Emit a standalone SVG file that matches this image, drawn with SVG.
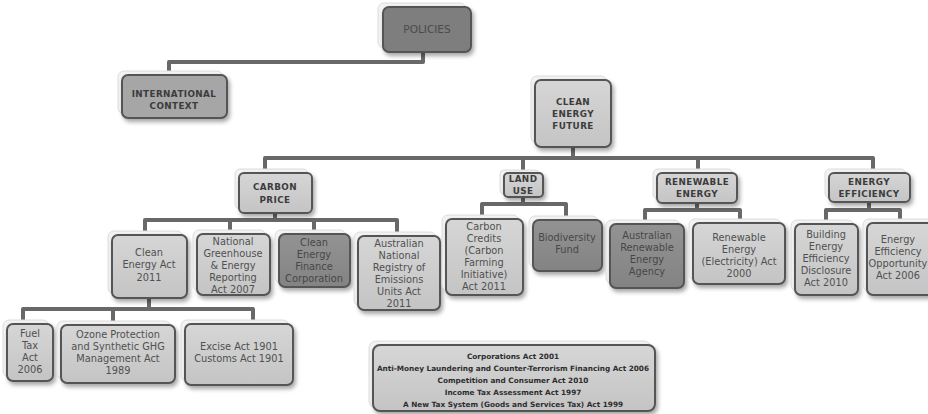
<svg xmlns="http://www.w3.org/2000/svg" width="928" height="414" viewBox="0 0 928 414">
<defs>
<filter id="sh" x="-20%" y="-20%" width="150%" height="150%">
<feDropShadow dx="2" dy="3" stdDeviation="2" flood-color="#000" flood-opacity="0.35"/>
</filter>
<linearGradient id="gl" x1="0" y1="0" x2="0" y2="1"><stop offset="0" stop-color="#d6d6d6"/><stop offset="1" stop-color="#c4c4c4"/></linearGradient>
<linearGradient id="gd" x1="0" y1="0" x2="0" y2="1"><stop offset="0" stop-color="#939393"/><stop offset="1" stop-color="#838383"/></linearGradient>
</defs>
<style>
.bg{fill:#f3f3f3;stroke:#dcdcdc;stroke-width:1}
.bx{stroke:#555;stroke-width:2;filter:url(#sh)}
.l{fill:url(#gl)}
.d{fill:url(#gd)}
.m{fill:#a6a6a6}
.p{fill:#7e7e7e}
.h{font-family:"DejaVu Sans",sans-serif;font-weight:bold;font-size:8.8px;fill:#3c3c3c;text-anchor:middle;letter-spacing:0.4px}
.t{font-family:"DejaVu Sans",sans-serif;font-size:9.8px;fill:#505050;text-anchor:middle}
.td{font-family:"DejaVu Sans",sans-serif;font-size:9.8px;fill:#474747;text-anchor:middle}
.b{font-family:"DejaVu Sans",sans-serif;font-weight:bold;font-size:7.3px;fill:#2e2e2e;text-anchor:middle}
.c{fill:none;stroke:#686868;stroke-width:4;stroke-linejoin:round;stroke-linecap:butt}
</style>
<rect width="928" height="414" fill="#fff"/>
<g id="connectors">
<path class="c" d="M423 52 V62 H169 V75"/>
<path class="c" d="M573 147 V158"/>
<path class="c" d="M265 173 V158 H873 V173"/>
<path class="c" d="M523 158 V173"/>
<path class="c" d="M698 158 V173"/>
<path class="c" d="M275 213 V220"/>
<path class="c" d="M145 235 V220 H397 V236"/>
<path class="c" d="M230 220 V234"/>
<path class="c" d="M314 220 V234"/>
<path class="c" d="M149 298 V309"/>
<path class="c" d="M23 324 V309 H253 V324"/>
<path class="c" d="M113 309 V325"/>
<path class="c" d="M523 197 V204"/>
<path class="c" d="M482 219 V204 H566 V220"/>
<path class="c" d="M697 203 V210"/>
<path class="c" d="M645 224 V210 H740 V223"/>
<path class="c" d="M869 202 V210"/>
<path class="c" d="M826 224 V210 H900 V223"/>
</g>
<g id="policies">
<rect class="bg" x="378" y="3" width="88" height="45" rx="6"/>
<rect class="bx p" x="383" y="7" width="88" height="45" rx="6"/>
<text class="t" x="427" y="33" style="fill:#4a4a4a;font-size:10.5px">POLICIES</text>
</g>
<g id="international">
<rect class="bg" x="118" y="71" width="105" height="43" rx="6"/>
<rect class="bx m" x="122" y="75" width="105" height="43" rx="6"/>
<text class="h" x="174" y="97">INTERNATIONAL</text>
<text class="h" x="174" y="109">CONTEXT</text>
</g>
<g id="cef">
<rect class="bg" x="531" y="76" width="76" height="67" rx="6"/>
<rect class="bx l" x="535" y="80" width="76" height="67" rx="6"/>
<text class="h" x="573" y="105">CLEAN</text>
<text class="h" x="573" y="117">ENERGY</text>
<text class="h" x="573" y="129">FUTURE</text>
</g>
<g id="carbon">
<rect class="bg" x="235" y="169" width="73" height="40" rx="5"/>
<rect class="bx l" x="239" y="173" width="73" height="40" rx="5"/>
<text class="h" x="275" y="190">CARBON</text>
<text class="h" x="275" y="203">PRICE</text>
</g>
<g id="landuse">
<rect class="bg" x="500" y="170" width="39" height="24" rx="4"/>
<rect class="bx l" x="504" y="173" width="39" height="24" rx="4"/>
<text class="h" x="523" y="182">LAND</text>
<text class="h" x="523" y="194">USE</text>
</g>
<g id="renewable">
<rect class="bg" x="653" y="169" width="80" height="30" rx="5"/>
<rect class="bx l" x="657" y="173" width="80" height="30" rx="5"/>
<text class="h" x="697" y="185">RENEWABLE</text>
<text class="h" x="697" y="197">ENERGY</text>
</g>
<g id="efficiency">
<rect class="bg" x="825" y="169" width="81" height="29" rx="5"/>
<rect class="bx l" x="829" y="173" width="81" height="29" rx="5"/>
<text class="h" x="869" y="185">ENERGY</text>
<text class="h" x="869" y="197">EFFICIENCY</text>
</g>
<g id="cea">
<rect class="bg" x="108" y="231" width="75" height="63" rx="6"/>
<rect class="bx l" x="112" y="235" width="75" height="63" rx="6"/>
<text class="t" x="149" y="256">Clean</text>
<text class="t" x="149" y="268">Energy Act</text>
<text class="t" x="149" y="281">2011</text>
</g>
<g id="nger">
<rect class="bg" x="193" y="230" width="73" height="61" rx="6"/>
<rect class="bx l" x="197" y="234" width="73" height="61" rx="6"/>
<text class="t" x="233" y="245">National</text>
<text class="t" x="233" y="257">Greenhouse</text>
<text class="t" x="233" y="269">&amp; Energy</text>
<text class="t" x="233" y="281">Reporting</text>
<text class="t" x="233" y="293">Act 2007</text>
</g>
<g id="cefc">
<rect class="bg" x="275" y="230" width="71" height="53" rx="6"/>
<rect class="bx d" x="279" y="234" width="71" height="53" rx="6"/>
<text class="td" x="314" y="246">Clean</text>
<text class="td" x="314" y="258">Energy</text>
<text class="td" x="314" y="270">Finance</text>
<text class="td" x="314" y="282">Corporation</text>
</g>
<g id="anreu">
<rect class="bg" x="354" y="232" width="82" height="74" rx="6"/>
<rect class="bx l" x="358" y="236" width="82" height="74" rx="6"/>
<text class="t" x="399" y="247">Australian</text>
<text class="t" x="399" y="259">National</text>
<text class="t" x="399" y="271">Registry of</text>
<text class="t" x="399" y="283">Emissions</text>
<text class="t" x="399" y="295">Units Act</text>
<text class="t" x="399" y="307">2011</text>
</g>
<g id="fueltax">
<rect class="bg" x="3" y="320" width="46" height="57" rx="6"/>
<rect class="bx l" x="7" y="324" width="46" height="57" rx="6"/>
<text class="t" x="30" y="337">Fuel</text>
<text class="t" x="30" y="349">Tax</text>
<text class="t" x="30" y="361">Act</text>
<text class="t" x="30" y="373">2006</text>
</g>
<g id="ozone">
<rect class="bg" x="57" y="321" width="114" height="58" rx="6"/>
<rect class="bx l" x="61" y="325" width="114" height="58" rx="6"/>
<text class="t" x="118" y="338">Ozone Protection</text>
<text class="t" x="118" y="350">and Synthetic GHG</text>
<text class="t" x="118" y="362">Management Act</text>
<text class="t" x="118" y="374">1989</text>
</g>
<g id="excise">
<rect class="bg" x="181" y="320" width="108" height="61" rx="6"/>
<rect class="bx l" x="185" y="324" width="108" height="61" rx="6"/>
<text class="t" x="239" y="350">Excise Act 1901</text>
<text class="t" x="239" y="362">Customs Act 1901</text>
</g>
<g id="credits">
<rect class="bg" x="442" y="215" width="77" height="76" rx="6"/>
<rect class="bx l" x="446" y="219" width="77" height="76" rx="6"/>
<text class="t" x="484" y="230">Carbon</text>
<text class="t" x="484" y="242">Credits</text>
<text class="t" x="484" y="254">(Carbon</text>
<text class="t" x="484" y="266">Farming</text>
<text class="t" x="484" y="278">Initiative)</text>
<text class="t" x="484" y="290">Act 2011</text>
</g>
<g id="biodiversity">
<rect class="bg" x="529" y="216" width="69" height="51" rx="6"/>
<rect class="bx d" x="533" y="220" width="69" height="51" rx="6"/>
<text class="td" x="567" y="241">Biodiversity</text>
<text class="td" x="567" y="253">Fund</text>
</g>
<g id="arena">
<rect class="bg" x="606" y="220" width="74" height="64" rx="6"/>
<rect class="bx d" x="610" y="224" width="74" height="64" rx="6"/>
<text class="td" x="647" y="239">Australian</text>
<text class="td" x="647" y="251">Renewable</text>
<text class="td" x="647" y="263">Energy</text>
<text class="td" x="647" y="275">Agency</text>
</g>
<g id="reea">
<rect class="bg" x="689" y="219" width="92" height="61" rx="6"/>
<rect class="bx l" x="693" y="223" width="92" height="61" rx="6"/>
<text class="t" x="739" y="241">Renewable</text>
<text class="t" x="739" y="253">Energy</text>
<text class="t" x="739" y="265">(Electricity) Act</text>
<text class="t" x="739" y="277">2000</text>
</g>
<g id="beed">
<rect class="bg" x="791" y="220" width="63" height="71" rx="6"/>
<rect class="bx l" x="795" y="224" width="63" height="71" rx="6"/>
<text class="t" x="826" y="238">Building</text>
<text class="t" x="826" y="250">Energy</text>
<text class="t" x="826" y="262">Efficiency</text>
<text class="t" x="826" y="274">Disclosure</text>
<text class="t" x="826" y="286">Act 2010</text>
</g>
<g id="eeo">
<rect class="bg" x="863" y="219" width="72" height="72" rx="6"/>
<rect class="bx l" x="867" y="223" width="72" height="72" rx="6"/>
<text class="t" x="898" y="243">Energy</text>
<text class="t" x="898" y="255">Efficiency</text>
<text class="t" x="898" y="267">Opportunity</text>
<text class="t" x="898" y="279">Act 2006</text>
</g>
<g id="general">
<rect class="bg" x="369" y="341" width="282" height="67" rx="7"/>
<rect class="bx l" x="373" y="345" width="282" height="66" rx="7"/>
<text class="b" x="513" y="359">Corporations Act 2001</text>
<text class="b" x="513" y="371">Anti-Money Laundering and Counter-Terrorism Financing Act 2006</text>
<text class="b" x="513" y="383">Competition and Consumer Act 2010</text>
<text class="b" x="513" y="395">Income Tax Assessment Act 1997</text>
<text class="b" x="513" y="407">A New Tax System (Goods and Services Tax) Act 1999</text>
</g>
</svg>
